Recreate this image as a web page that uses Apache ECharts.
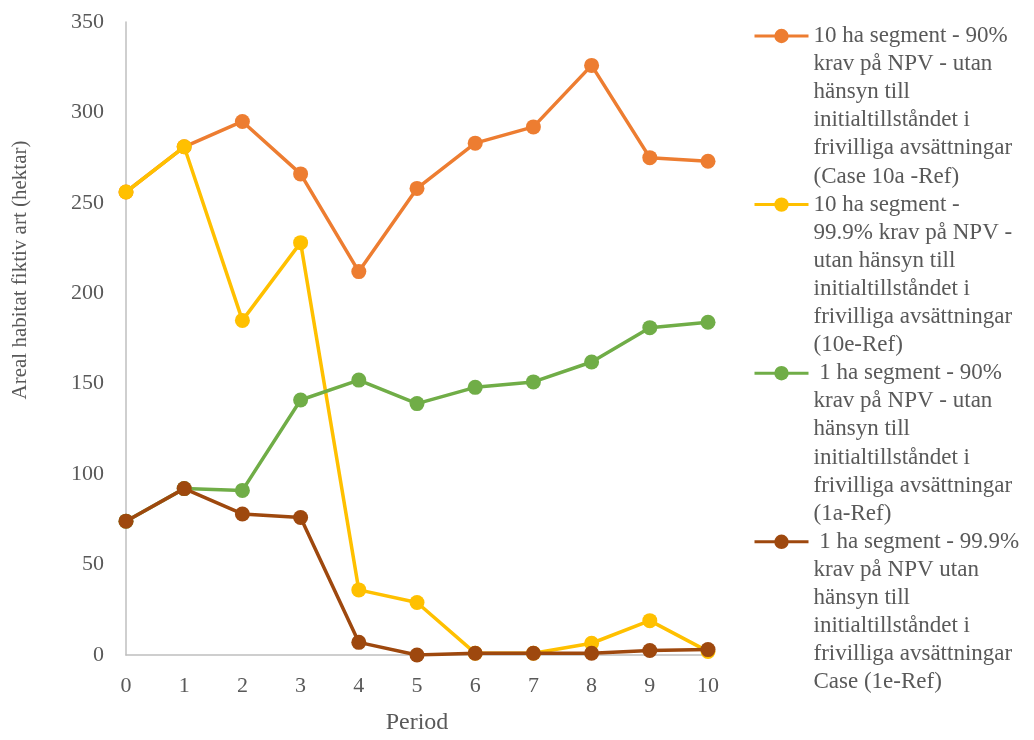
<!DOCTYPE html>
<html>
<head>
<meta charset="utf-8">
<script src="https://cdn.jsdelivr.net/npm/echarts@6/dist/echarts.min.js"></script>
<style>
  html, body { margin: 0; padding: 0; background: #fff; overflow: hidden; }
  #chart { width: 1034px; height: 740px; }
</style>
</head>
<body>
<div id="chart"></div>
<script>
// Periods on the x axis
const periods = ['0', '1', '2', '3', '4', '5', '6', '7', '8', '9', '10'];

// Habitat area (hectares) per scenario
const case10a = [256, 281, 295, 266, 212, 258, 283, 292, 326, 275, 273];
const case10e = [256, 281, 185, 228, 36, 29, 1, 1, 6.5, 19, 2];
const case1a  = [74, 92, 91, 141, 152, 139, 148, 151, 162, 181, 184];
const case1e  = [74, 92, 78, 76, 7, 0, 1, 1, 1, 2.5, 3];

// Legend labels (pre-wrapped lines)
const names = [
  '10 ha segment - 90%\nkrav på NPV - utan\nhänsyn till\ninitialtillståndet i\nfrivilliga avsättningar\n(Case 10a -Ref)',
  '10 ha segment -\n99.9% krav på NPV -\nutan hänsyn till\ninitialtillståndet i\nfrivilliga avsättningar\n(10e-Ref)',
  ' 1 ha segment - 90%\nkrav på NPV - utan\nhänsyn till\ninitialtillståndet i\nfrivilliga avsättningar\n(1a-Ref)',
  ' 1 ha segment - 99.9%\nkrav på NPV utan\nhänsyn till\ninitialtillståndet i\nfrivilliga avsättningar\nCase (1e-Ref)'
];

const colors = ['#ED7D31', '#FFC000', '#70AD47', '#9E480E'];
const seriesData = [case10a, case10e, case1a, case1e];

const FONT = '"Liberation Serif", "Times New Roman", serif';
const TEXT = '#595959';
const LINE_H = 28.1;
const LINES = 6;
// Blank lines placed before each legend label so the icon sits beside the first line
const LEAD = '\n'.repeat(LINES - 1);

const chart = echarts.init(document.getElementById('chart'));

chart.setOption({
  backgroundColor: '#ffffff',
  animation: false,
  color: colors,
  grid: { left: 126, right: 326, top: 22, bottom: 79, containLabel: false },
  xAxis: {
    type: 'category',
    data: periods,
    boundaryGap: false,
    name: 'Period',
    nameLocation: 'middle',
    nameGap: 56,
    nameTextStyle: { fontFamily: FONT, fontSize: 24, color: TEXT },
    axisLine: { lineStyle: { color: '#BFBFBF', width: 1.5 } },
    axisTick: { show: false },
    axisLabel: { fontFamily: FONT, fontSize: 22, color: TEXT, margin: 20 }
  },
  yAxis: {
    type: 'value',
    min: 0,
    max: 350,
    interval: 50,
    axisLine: { show: true, lineStyle: { color: '#BFBFBF', width: 1.5 } },
    axisTick: { show: false },
    splitLine: { show: false },
    axisLabel: { fontFamily: FONT, fontSize: 22, color: TEXT, margin: 22 }
  },
  legend: {
    orient: 'vertical',
    left: 748,
    top: 31 - (2 * LINES - 1) * LINE_H / 2,
    itemWidth: 54,
    itemHeight: 18,
    itemGap: -(LINES - 1) * LINE_H,
    selectedMode: false,
    data: names,
    formatter: (name) => LEAD + name,
    lineStyle: { width: 3 },
    textStyle: {
      fontFamily: FONT,
      fontSize: 23,
      color: TEXT,
      lineHeight: LINE_H
    }
  },
  graphic: [{
    type: 'text',
    rotation: Math.PI / 2,
    x: 20,
    y: 270,
    style: {
      text: 'Areal habitat fiktiv art (hektar)',
      fontFamily: FONT,
      fontSize: 21,
      fill: TEXT,
      align: 'center',
      verticalAlign: 'middle'
    }
  }],
  series: seriesData.map((d, i) => ({
    name: names[i],
    type: 'line',
    data: d,
    symbol: 'circle',
    symbolSize: 15,
    lineStyle: { width: 3.5, color: colors[i] },
    itemStyle: { color: colors[i] },
    z: 2 + i
  }))
});
</script>
</body>
</html>
